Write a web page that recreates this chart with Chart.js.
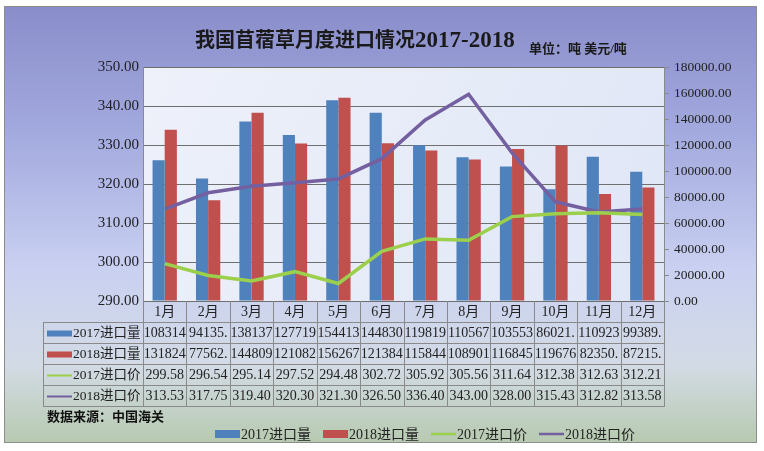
<!DOCTYPE html>
<html>
<head>
<meta charset="utf-8">
<script src="https://cdn.jsdelivr.net/npm/chart.js@4"></script>
<style>
  html, body { margin: 0; padding: 0; background: #fff; }
  #wrap { width: 764px; height: 451px; position: relative; }
</style>
</head>
<body>
<div id="wrap"><canvas id="tuSuxu" width="764" height="451"></canvas></div>
<script>
// data
const yueFen = ["1月", "2月", "3月", "4月", "5月", "6月", "7月", "8月", "9月", "10月", "11月", "12月"];
const liang2017 = [108314, 94135, 138137, 127719, 154413, 144830, 119819, 110567, 103553, 86021, 110923, 99389];
const liang2018 = [131824, 77562, 144809, 121082, 156267, 121384, 115844, 108901, 116845, 119676, 82350, 87215];
const jia2017 = [299.58, 296.54, 295.14, 297.52, 294.48, 302.72, 305.92, 305.56, 311.64, 312.38, 312.63, 312.21];
const jia2018 = [313.53, 317.75, 319.40, 320.30, 321.30, 326.50, 336.40, 343.00, 328.00, 315.43, 312.82, 313.58];
const namaSeri = ["2017进口量", "2018进口量", "2017进口价", "2018进口价"];

const biru = "#4f81bd";
const merah = "#c0504d";
const hijau = "#9bcf4c";
const ungu = "#7460a0";

const hurufAngka = "'Liberation Serif', 'Noto Sans CJK SC', serif";
const hurufCjk = "'Liberation Serif', 'Noto Sans CJK SC', sans-serif";

const tabelPlugin = {
  id: "tabelPlugin",
  beforeDraw(chart) {
    const ctx = chart.ctx;
    const area = chart.chartArea;
    ctx.save();
    ctx.fillStyle = "#ffffff";
    ctx.fillRect(0, 0, chart.width, chart.height);
    // outer frame with gradient
    const g = ctx.createLinearGradient(0, 6, 0, 443);
    g.addColorStop(0, "#898dca");
    g.addColorStop(0.3, "#a4abdf");
    g.addColorStop(0.6, "#c9d0f1");
    g.addColorStop(0.82, "#d3dbe6");
    g.addColorStop(1, "#b7cab0");
    ctx.fillStyle = g;
    ctx.fillRect(4, 6, 753, 437);
    ctx.strokeStyle = "#8c8c8c";
    ctx.lineWidth = 1;
    ctx.strokeRect(4.5, 6.5, 752, 436);
    // plot background
    const g2 = ctx.createLinearGradient(area.left, area.top, area.right, area.bottom);
    g2.addColorStop(0, "#eef1fa");
    g2.addColorStop(1, "#dfe6f6");
    ctx.fillStyle = g2;
    ctx.fillRect(area.left, area.top, area.right - area.left, area.bottom - area.top);
    ctx.restore();
  },
  afterDraw(chart) {
    const ctx = chart.ctx;
    const area = chart.chartArea;
    const xs = chart.scales.x;
    const lebar = (area.right - area.left) / yueFen.length;
    const tinggiBaris = 21;
    const atas = area.bottom;
    const kiriTabel = 43;

    ctx.save();
    // title
    ctx.fillStyle = "#1a1a1a";
    ctx.textBaseline = "alphabetic";
    ctx.textAlign = "left";
    ctx.font = "bold 20px 'Noto Sans CJK SC', sans-serif";
    const judul = "我国苜蓿草月度进口情况";
    ctx.fillText(judul, 195, 47);
    const wJudul = ctx.measureText(judul).width;
    ctx.font = "bold 23px " + hurufAngka;
    ctx.fillText("2017-2018", 195 + wJudul, 47);
    ctx.font = "bold 13px " + hurufCjk;
    ctx.fillText("单位：吨 美元/吨", 529, 53);

    // table lines
    ctx.strokeStyle = "#8a8a8a";
    ctx.lineWidth = 1;
    ctx.beginPath();
    for (let i = 0; i <= yueFen.length; i++) {
      const x = Math.round(area.left + i * lebar) + 0.5;
      ctx.moveTo(x, atas);
      ctx.lineTo(x, atas + tinggiBaris * 5);
    }
    ctx.moveTo(kiriTabel + 0.5, atas + tinggiBaris);
    ctx.lineTo(kiriTabel + 0.5, atas + tinggiBaris * 5);
    for (let r = 1; r <= 5; r++) {
      const y = Math.round(atas + r * tinggiBaris) + 0.5;
      ctx.moveTo(kiriTabel, y);
      ctx.lineTo(Math.round(area.right) + 1, y);
    }
    ctx.stroke();

    // month header
    ctx.textAlign = "center";
    ctx.textBaseline = "middle";
    ctx.fillStyle = "#222";
    ctx.font = "14px " + hurufCjk;
    yueFen.forEach((m, i) => {
      ctx.fillText(m, xs.getPixelForValue(i), atas + tinggiBaris / 2 + 1);
    });

    // rows
    const seriData = [liang2017, liang2018, jia2017, jia2018];
    const warna = [biru, merah, hijau, ungu];
    seriData.forEach((arr, r) => {
      const yc = atas + tinggiBaris * (r + 1) + tinggiBaris / 2 + 1;
      if (r < 2) {
        ctx.fillStyle = warna[r];
        ctx.fillRect(47, yc - 3, 25, 6);
      } else {
        ctx.strokeStyle = warna[r];
        ctx.lineWidth = 2;
        ctx.beginPath();
        ctx.moveTo(47, yc);
        ctx.lineTo(72, yc);
        ctx.stroke();
      }
      ctx.fillStyle = "#222";
      ctx.textAlign = "left";
      ctx.font = "13.5px " + hurufCjk;
      ctx.fillText(namaSeri[r], 73, yc);
      ctx.textAlign = "center";
      ctx.font = "14px " + hurufAngka;
      arr.forEach((v, i) => {
        ctx.fillText(v.toFixed(2).slice(0, 6), xs.getPixelForValue(i), yc);
      });
    });

    // source note
    ctx.textAlign = "left";
    ctx.fillStyle = "#111";
    ctx.font = "bold 13px " + hurufCjk;
    ctx.fillText("数据来源：中国海关", 47, 418);

    // legend
    ctx.font = "14px " + hurufCjk;
    let lx = 215;
    const ly = 434;
    namaSeri.forEach((nama, r) => {
      if (r < 2) {
        ctx.fillStyle = warna[r];
        ctx.fillRect(lx, ly - 4, 25, 8);
      } else {
        ctx.strokeStyle = warna[r];
        ctx.lineWidth = 2.5;
        ctx.beginPath();
        ctx.moveTo(lx, ly);
        ctx.lineTo(lx + 25, ly);
        ctx.stroke();
      }
      ctx.fillStyle = "#222";
      ctx.fillText(nama, lx + 26, ly + 1);
      lx += 26 + ctx.measureText(nama).width + 12;
    });
    ctx.restore();
  },
};

new Chart(document.getElementById("tuSuxu").getContext("2d"), {
  data: {
    labels: yueFen,
    datasets: [
      {
        type: "bar",
        label: namaSeri[0],
        data: liang2017,
        backgroundColor: biru,
        yAxisID: "y1",
        order: 2,
      },
      {
        type: "bar",
        label: namaSeri[1],
        data: liang2018,
        backgroundColor: merah,
        yAxisID: "y1",
        order: 2,
      },
      {
        type: "line",
        label: namaSeri[2],
        data: jia2017,
        borderColor: hijau,
        borderWidth: 3.5,
        pointRadius: 0,
        tension: 0,
        yAxisID: "y",
        order: 1,
      },
      {
        type: "line",
        label: namaSeri[3],
        data: jia2018,
        borderColor: ungu,
        borderWidth: 3.5,
        pointRadius: 0,
        tension: 0,
        yAxisID: "y",
        order: 1,
      },
    ],
  },
  options: {
    responsive: false,
    animation: false,
    layout: { padding: { left: 0, right: 0, top: 67, bottom: 150 } },
    datasets: {
      bar: { categoryPercentage: 0.56, barPercentage: 1 },
    },
    plugins: {
      legend: { display: false },
      title: { display: false },
      tooltip: { enabled: false },
    },
    scales: {
      x: {
        display: false,
        afterFit: (s) => { s.height = 0; },
      },
      y: {
        position: "left",
        min: 290,
        max: 350,
        afterFit: (s) => { s.width = 143; },
        ticks: {
          stepSize: 10,
          padding: 4,
          color: "#222",
          font: { family: hurufAngka, size: 15 },
          callback: (v) => v.toFixed(2),
        },
        grid: { color: "#6f6f6f", drawTicks: false },
        border: { color: "#8a8a8a" },
      },
      y1: {
        position: "right",
        min: 0,
        max: 180000,
        afterFit: (s) => { s.width = 100; },
        ticks: {
          stepSize: 20000,
          padding: 5,
          color: "#222",
          font: { family: hurufAngka, size: 13.5 },
          callback: (v) => v.toFixed(2),
        },
        grid: { drawOnChartArea: false, drawTicks: true, tickLength: 5, color: "#8a8a8a" },
        border: { color: "#8a8a8a" },
      },
    },
  },
  plugins: [tabelPlugin],
});
</script>
</body>
</html>
